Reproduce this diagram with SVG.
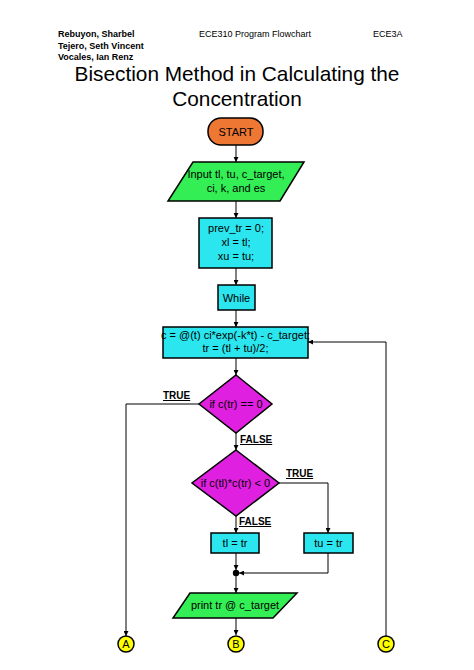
<svg xmlns="http://www.w3.org/2000/svg" width="474" height="670" viewBox="0 0 474 670">
<defs>
<marker id="ah" viewBox="0 0 10 10" refX="10" refY="5" markerWidth="5" markerHeight="5" orient="auto" markerUnits="userSpaceOnUse"><path d="M0,0 L10,5 L0,10 z" fill="#000"/></marker>
<style>
text{font-family:"Liberation Sans",Arial,sans-serif;fill:#000}
.hdr{font-size:9px}
.b{font-weight:bold}
.title{font-size:20.8px;text-anchor:middle}
.t{font-size:11px;text-anchor:middle}
.lbl{font-size:10px;font-weight:bold;text-decoration:underline}
.proc{fill:#2BE6EE;stroke:#000;stroke-width:1.5}
.io{fill:#33EE55;stroke:#000;stroke-width:1.5}
.dec{fill:#E020E0;stroke:#000;stroke-width:1.5}
.conn{fill:#FFFF00;stroke:#000;stroke-width:1.5}
.e{fill:none;stroke:#000;stroke-width:1}
</style>
</defs>
<rect width="474" height="670" fill="#fff"/>
<g id="header">
<text class="hdr b" x="58" y="37">Rebuyon, Sharbel</text>
<text class="hdr b" x="58" y="49">Tejero, Seth Vincent</text>
<text class="hdr b" x="58" y="60">Vocales, Ian Renz</text>
<text class="hdr" x="255" y="37" text-anchor="middle">ECE310 Program Flowchart</text>
<text class="hdr" x="373" y="37">ECE3A</text>
<text class="title" x="237" y="81">Bisection Method in Calculating the</text>
<text class="title" x="237" y="106">Concentration</text>
</g>
<g id="connectors">
<path class="e" d="M236,145 V162" marker-end="url(#ah)"/>
<path class="e" d="M236,201 V218" marker-end="url(#ah)"/>
<path class="e" d="M236,268 V285" marker-end="url(#ah)"/>
<path class="e" d="M236,310 V327" marker-end="url(#ah)"/>
<path class="e" d="M236,358 V375" marker-end="url(#ah)"/>
<path class="e" d="M199,404 H126 V636" marker-end="url(#ah)"/>
<path class="e" d="M236,433 V450" marker-end="url(#ah)"/>
<path class="e" d="M279,483 H328 V533" marker-end="url(#ah)"/>
<path class="e" d="M236,516 V533" marker-end="url(#ah)"/>
<path class="e" d="M236,553 V570" marker-end="url(#ah)"/>
<path class="e" d="M328,553 V573 H239" marker-end="url(#ah)"/>
<circle cx="236" cy="573" r="3.2" fill="#000"/>
<path class="e" d="M236,576 V593" marker-end="url(#ah)"/>
<path class="e" d="M236,618 V635" marker-end="url(#ah)"/>
<path class="e" d="M386,636 V342 H308" marker-end="url(#ah)"/>
<text class="lbl" x="163" y="399">TRUE</text>
<text class="lbl" x="240" y="443">FALSE</text>
<text class="lbl" x="286" y="477">TRUE</text>
<text class="lbl" x="239" y="525">FALSE</text>
</g>
<g id="start">
<rect x="208" y="118" width="55" height="27" rx="13" fill="#EE7733" stroke="#000" stroke-width="1.5"/>
<text class="t" x="236" y="135.5">START</text>
</g>
<g id="input">
<polygon class="io" points="193,162 304,162 280,201 168,201"/>
<text class="t" x="236" y="178">Input tl, tu, c_target,</text>
<text class="t" x="236" y="192">ci, k, and es</text>
</g>
<g id="init">
<rect class="proc" x="199" y="218" width="73" height="50"/>
<text class="t" x="236" y="232">prev_tr = 0;</text>
<text class="t" x="236" y="246">xl = tl;</text>
<text class="t" x="236" y="260">xu = tu;</text>
</g>
<g id="while">
<rect class="proc" x="218" y="285" width="37" height="25"/>
<text class="t" x="236.5" y="301.5">While</text>
</g>
<g id="compute">
<rect class="proc" x="163" y="327" width="145" height="31"/>
<text class="t" x="235.5" y="339" font-size="10.3">c = @(t) ci*exp(-k*t) - c_target;</text>
<text class="t" x="235.5" y="352" font-size="10.3">tr = (tl + tu)/2;</text>
</g>
<g id="dec1">
<polygon class="dec" points="236,375 272,404 236,433 199,404"/>
<text class="t" x="236" y="408">if c(tr) == 0</text>
</g>
<g id="dec2">
<polygon class="dec" points="236,450 279,483 236,516 192,483"/>
<text class="t" x="235.5" y="487">if c(tl)*c(tr) &lt; 0</text>
</g>
<g id="tl">
<rect class="proc" x="211" y="533" width="48" height="20"/>
<text class="t" x="235" y="547">tl = tr</text>
</g>
<g id="tu">
<rect class="proc" x="304" y="533" width="49" height="20"/>
<text class="t" x="328.5" y="547">tu = tr</text>
</g>
<g id="print">
<polygon class="io" points="190,593 297,593 273,618 173,618"/>
<text class="t" x="235" y="609">print tr @ c_target</text>
</g>
<g id="A">
<circle class="conn" cx="126" cy="644" r="8"/>
<text class="t" x="126" y="648">A</text>
</g>
<g id="B">
<circle class="conn" cx="236" cy="644" r="8"/>
<text class="t" x="236" y="648">B</text>
</g>
<g id="C">
<circle class="conn" cx="386" cy="644" r="8"/>
<text class="t" x="386" y="648">C</text>
</g>
</svg>
